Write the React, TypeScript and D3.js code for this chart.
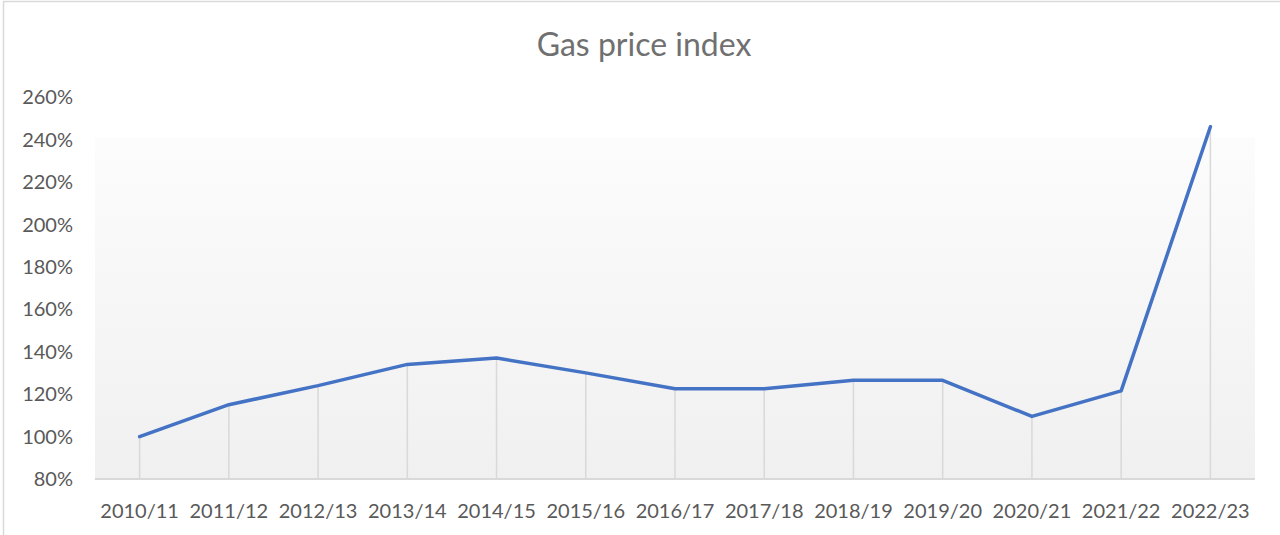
import { useEffect, useRef } from 'react'
import * as d3 from 'd3'

const seasons = [
  '2010/11', '2011/12', '2012/13', '2013/14', '2014/15', '2015/16', '2016/17',
  '2017/18', '2018/19', '2019/20', '2020/21', '2021/22', '2022/23',
]
const priceIndex = [100, 115, 124, 134, 137, 130, 122.5, 122.5, 126.5, 126.5, 109.5, 121.5, 246]
const yTicks = [80, 100, 120, 140, 160, 180, 200, 220, 240, 260]

const W = 1280
const H = 535
const FONT = 'Lato, "Open Sans", sans-serif'

export default function App() {
  const svgRef = useRef<SVGSVGElement>(null)

  useEffect(() => {
    if (!svgRef.current) return
    const svg = d3.select(svgRef.current)
    svg.selectAll('*').remove()

    const margin = { top: 97, right: 25, bottom: 56, left: 95 }
    const innerW = W - margin.left - margin.right
    const innerH = H - margin.top - margin.bottom

    const x = d3.scaleBand<string>().domain(seasons).range([0, innerW])
    const y = d3.scaleLinear().domain([80, 260]).range([innerH, 0])
    const cx = (s: string) => (x(s) ?? 0) + x.bandwidth() / 2

    svg.append('rect')
      .attr('x', 0).attr('y', 0).attr('width', W).attr('height', H)
      .attr('fill', '#ffffff')

    svg.append('rect')
      .attr('x', 3.5).attr('y', 1.5).attr('width', W + 20).attr('height', H + 20)
      .attr('fill', 'none').attr('stroke', '#d9d9d9').attr('stroke-width', 1.5)

    const defs = svg.append('defs')
    const grad = defs.append('linearGradient')
      .attr('id', 'plotbg').attr('x1', 0).attr('y1', 0).attr('x2', 0).attr('y2', 1)
    grad.append('stop').attr('offset', '0%').attr('stop-color', '#fcfcfc')
    grad.append('stop').attr('offset', '100%').attr('stop-color', '#f0f0f0')

    svg.append('text')
      .attr('x', 644).attr('y', 56)
      .attr('text-anchor', 'middle')
      .attr('font-family', FONT)
      .attr('font-size', 32)
      .attr('fill', '#707070')
      .text('Gas price index')

    const g = svg.append('g').attr('transform', `translate(${margin.left},${margin.top})`)

    g.append('rect')
      .attr('x', 0).attr('y', y(241))
      .attr('width', innerW).attr('height', innerH - y(241))
      .attr('fill', 'url(#plotbg)')

    // drop lines
    g.selectAll('.drop')
      .data(seasons)
      .enter()
      .append('line')
      .attr('x1', d => cx(d)).attr('x2', d => cx(d))
      .attr('y1', (d, i) => y(priceIndex[i])).attr('y2', innerH)
      .attr('stroke', '#d9d9d9').attr('stroke-width', 1.5)

    // bottom axis line
    g.append('line')
      .attr('x1', 0).attr('x2', innerW)
      .attr('y1', innerH).attr('y2', innerH)
      .attr('stroke', '#d9d9d9').attr('stroke-width', 2)

    const line = d3.line<number>()
      .x((d, i) => cx(seasons[i]))
      .y(d => y(d))

    g.append('path')
      .datum(priceIndex)
      .attr('fill', 'none')
      .attr('stroke', '#4472c4')
      .attr('stroke-width', 3.5)
      .attr('stroke-linejoin', 'round')
      .attr('stroke-linecap', 'round')
      .attr('d', line)

    g.selectAll('.ylab')
      .data(yTicks)
      .enter()
      .append('text')
      .attr('x', -22)
      .attr('y', d => y(d))
      .attr('dy', '0.36em')
      .attr('text-anchor', 'end')
      .attr('font-family', FONT)
      .attr('font-size', 20)
      .attr('fill', '#595959')
      .text(d => `${d}%`)

    g.selectAll('.xlab')
      .data(seasons)
      .enter()
      .append('text')
      .attr('x', d => cx(d))
      .attr('y', innerH + 39)
      .attr('text-anchor', 'middle')
      .attr('font-family', FONT)
      .attr('font-size', 20)
      .attr('fill', '#595959')
      .text(d => d)
  }, [])

  return (
    <svg
      ref={svgRef}
      width={W}
      height={H}
      style={{ position: 'absolute', left: 0, top: 0, display: 'block' }}
    />
  )
}
